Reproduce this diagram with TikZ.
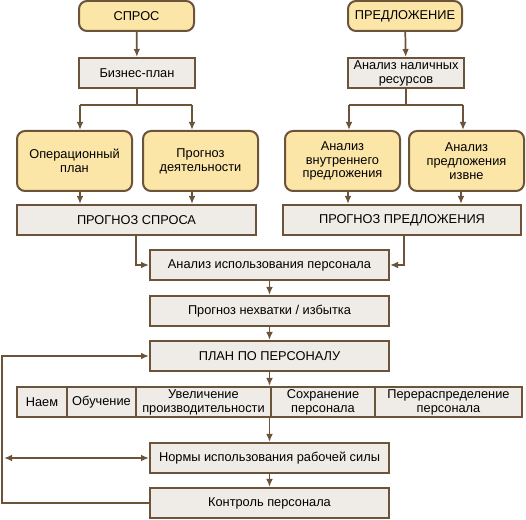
\documentclass[tikz,border=0pt]{standalone}
\usepackage{fontspec}
\setmainfont{Liberation Sans}
\usetikzlibrary{arrows.meta}
\definecolor{brn}{RGB}{107,84,58}
\definecolor{ylw}{RGB}{251,230,168}
\definecolor{gry}{RGB}{239,235,231}
\tikzset{
  base/.style={draw=brn, line width=1.5pt, align=center, inner sep=1pt,
    font=\fontsize{9.6}{10.4}\selectfont, text=black},
  ybox/.style={base, fill=ylw, rounded corners=6pt},
  gbox/.style={base, fill=gry},
  conn/.style={draw=brn, line width=1.3pt},
  arr/.style={conn, -{Latex[length=6pt,width=5pt]}},
  darr/.style={conn, {Latex[length=6pt,width=5pt]}-{Latex[length=6pt,width=5pt]}},
}
\begin{document}
\begin{tikzpicture}[x=0.75pt,y=-0.75pt]
\useasboundingbox (0,0) rectangle (526,520);
% top-left
\node[ybox, minimum width=115*0.75pt, minimum height=30*0.75pt] (spros) at (136.5,16) {СПРОС};
\node[gbox, minimum width=116*0.75pt, minimum height=30*0.75pt] (biz) at (137,73) {Бизнес-план};
\node[ybox, minimum width=115*0.75pt, minimum height=60*0.75pt] (oper) at (74.5,161) {Операционный\\план};
\node[ybox, minimum width=115*0.75pt, minimum height=60*0.75pt] (progd) at (200.5,161) {Прогноз\\деятельности};
% top-right
\node[ybox, minimum width=114*0.75pt, minimum height=30*0.75pt] (pred) at (405,16) {ПРЕДЛОЖЕНИЕ};
\node[gbox, minimum width=116*0.75pt, minimum height=30*0.75pt] (anres) at (406,73) {Анализ наличных\\ресурсов};
\node[ybox, minimum width=115*0.75pt, minimum height=60*0.75pt] (vnutr) at (342.5,161) {Анализ\\внутреннего\\предложения};
\node[ybox, minimum width=115*0.75pt, minimum height=60*0.75pt] (izvne) at (466.5,161) {Анализ\\предложения\\извне};
% forecasts
\node[gbox, minimum width=239*0.75pt, minimum height=30*0.75pt] (pspros) at (136.5,220) {ПРОГНОЗ СПРОСА};
\node[gbox, minimum width=238*0.75pt, minimum height=30*0.75pt] (ppred) at (402,220) {ПРОГНОЗ ПРЕДЛОЖЕНИЯ};
% center column
\node[gbox, minimum width=239*0.75pt, minimum height=30*0.75pt] (anisp) at (269.5,265) {Анализ использования персонала};
\node[gbox, minimum width=239*0.75pt, minimum height=30*0.75pt] (nehv) at (269.5,311) {Прогноз нехватки / избытка};
\node[gbox, minimum width=239*0.75pt, minimum height=30*0.75pt] (plan) at (269.5,356) {ПЛАН ПО ПЕРСОНАЛУ};
% strip
\node[gbox, minimum width=50*0.75pt, minimum height=30*0.75pt] (c1) at (42,402) {Наем};
\node[gbox, minimum width=69*0.75pt, minimum height=30*0.75pt] (c2) at (101.5,402) {Обучение};
\node[gbox, minimum width=135*0.75pt, minimum height=30*0.75pt] (c3) at (203.5,402) {Увеличение\\производительности};
\node[gbox, minimum width=104*0.75pt, minimum height=30*0.75pt] (c4) at (323,402) {Сохранение\\персонала};
\node[gbox, minimum width=147*0.75pt, minimum height=30*0.75pt] (c5) at (448.5,402) {Перераспределение\\персонала};
\node[gbox, minimum width=239*0.75pt, minimum height=30*0.75pt] (normy) at (269.5,458) {Нормы использования рабочей силы};
\node[gbox, minimum width=239*0.75pt, minimum height=30*0.75pt] (kontr) at (269.5,503) {Контроль персонала};
% coordinates
\coordinate (bl) at (137,105);
\coordinate (bl1) at (80,105);
\coordinate (bl2) at (192,105);
\coordinate (br) at (406,105);
\coordinate (br1) at (349,105);
\coordinate (br2) at (463,105);
\coordinate (d1) at (80,191);
\coordinate (d2) at (192,191);
\coordinate (d3) at (348,191);
\coordinate (d4) at (461,191);
\coordinate (sx) at (136,265);
\coordinate (px) at (404,265);
\coordinate (fbA) at (2,503);
\coordinate (fbB) at (2,356);
\coordinate (fbC) at (4,458);
% connectors
\draw[arr] (spros) -- (biz);
\draw[conn] (biz.south) -- (bl);
\draw[conn] (bl1) -- (bl2);
\draw[arr] (bl1) -- (bl1 |- oper.north);
\draw[arr] (bl2) -- (bl2 |- progd.north);
\draw[arr] (pred) -- (anres);
\draw[conn] (anres.south) -- (br);
\draw[conn] (br1) -- (br2);
\draw[arr] (br1) -- (br1 |- vnutr.north);
\draw[arr] (br2) -- (br2 |- izvne.north);
\draw[arr] (d1) -- (d1 |- pspros.north);
\draw[arr] (d2) -- (d2 |- pspros.north);
\draw[arr] (d3) -- (d3 |- ppred.north);
\draw[arr] (d4) -- (d4 |- ppred.north);
\draw[arr] (sx |- pspros.south) -- (sx) -- (anisp.west);
\draw[arr] (px |- ppred.south) -- (px) -- (anisp.east);
\draw[arr] (anisp) -- (nehv);
\draw[arr] (nehv) -- (plan);
\draw[arr] (plan.south) -- (plan.south |- c3.north);
\draw[arr] (plan.south |- c3.south) -- (normy.north);
\draw[arr] (normy) -- (kontr);
\draw[arr] (kontr.west) -- (fbA) -- (fbB) -- (plan.west);
\draw[darr] (fbC) -- (normy.west);
\end{tikzpicture}
\end{document}
